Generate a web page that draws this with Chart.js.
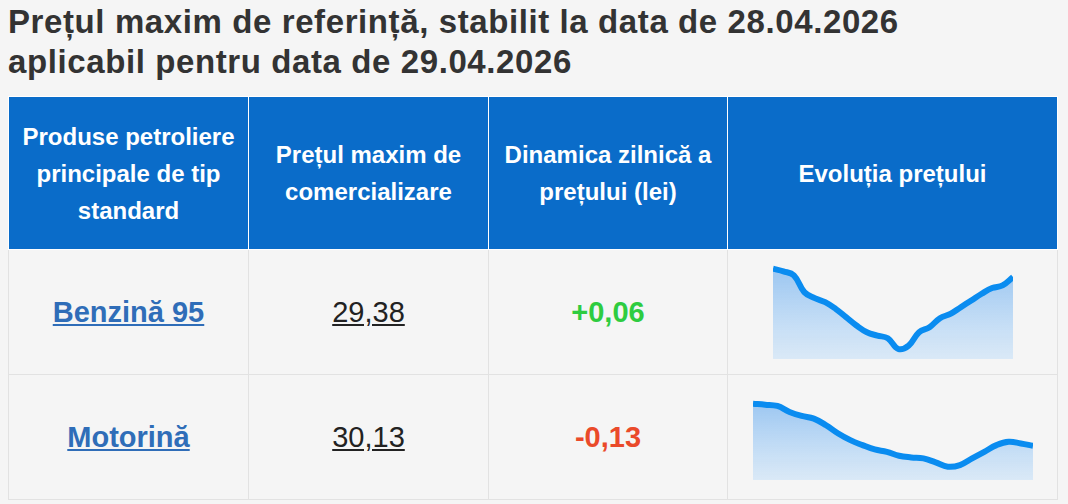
<!DOCTYPE html>
<html><head><meta charset="utf-8">
<script src="https://cdn.jsdelivr.net/npm/chart.js@4"></script>
<style>
body{margin:0;background:#f5f5f5;font-family:"Liberation Sans",Arial,sans-serif;width:1068px;height:504px;overflow:hidden}
h1{position:absolute;left:8px;top:2px;margin:0;font-size:33px;line-height:40px;color:#333;font-weight:bold;letter-spacing:0.6px}
table{position:absolute;left:8px;top:96px;border-collapse:collapse;width:1050px}
th{background:#0a6cc9;color:#fff;font-weight:bold;font-size:24px;line-height:37px;height:152px;border:1px solid #fff;padding:0 2px}
td{height:122px;border:1px solid #e2e2e2;text-align:center;font-size:29px;position:relative;background:#f5f5f5}
a{color:#2f6db8;font-weight:bold;text-decoration:underline}
.p{color:#222;text-decoration:underline}
.up{color:#2ecc40;font-weight:bold}.dn{color:#ea4a2a;font-weight:bold}
.sp{position:absolute}
</style></head><body>
<h1>Prețul maxim de referință, stabilit la data de 28.04.2026<br>aplicabil pentru data de 29.04.2026</h1>
<table>
<tr><th style="width:235px">Produse petroliere principale de tip standard</th><th style="width:235px">Prețul maxim de comercializare</th><th style="width:234px">Dinamica zilnică a prețului (lei)</th><th>Evoluția prețului</th></tr>
<tr><td><a>Benzină 95</a></td><td><span class="p">29,38</span></td><td class="up">+0,06</td><td><div class="sp" style="left:45px;top:14px;width:240px;height:95px"><canvas id="c1"></canvas></div></td></tr>
<tr><td><a>Motorină</a></td><td><span class="p">30,13</span></td><td class="dn">-0,13</td><td><div class="sp" style="left:25px;top:23px;width:280px;height:82px"><canvas id="c2"></canvas></div></td></tr>
</table>
<script>
const benzina = [270,262,250,200,182,170,150,125,100,80,70,62,30,40,80,95,122,135,155,175,195,212,220,245];
const motorina = [230,227,223,205,193,185,165,140,120,105,92,85,73,68,65,53,40,45,65,85,105,115,110,103];

function spark(id, data, max) {
  const ctx = document.getElementById(id).getContext("2d");
  const h = ctx.canvas.parentNode.clientHeight;
  const g = ctx.createLinearGradient(0, 0, 0, h);
  g.addColorStop(0, "rgba(120,180,240,0.75)");
  g.addColorStop(1, "rgba(200,225,248,0.6)");
  new Chart(ctx, {
    type: "line",
    data: { labels: data.map((_, i) => i), datasets: [{ data, borderColor: "#0a8cf0", borderWidth: 6, backgroundColor: g, fill: "origin", pointRadius: 0, tension: 0.4 }] },
    options: {
      responsive: true, maintainAspectRatio: false, animation: false,
      layout: { padding: 0 },
      plugins: { legend: { display: false }, tooltip: { enabled: false } },
      scales: { x: { display: false }, y: { display: false, min: 0, max } }
    }
  });
}
spark("c1", benzina, 284);
spark("c2", motorina, 247);
</script>
</body></html>
